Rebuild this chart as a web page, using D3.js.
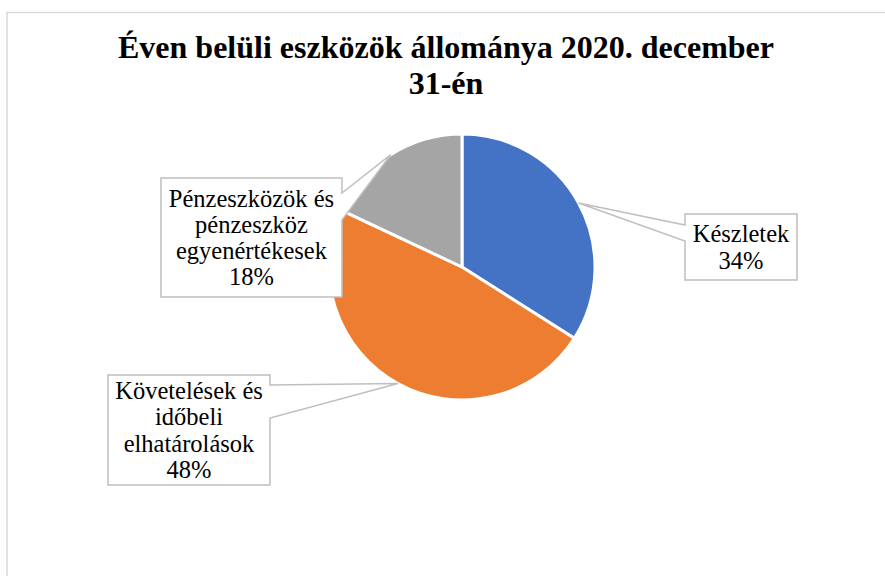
<!DOCTYPE html>
<html>
<head>
<meta charset="utf-8">
<script src="https://cdn.jsdelivr.net/npm/d3@7"></script>
<style>
  html, body { margin: 0; padding: 0; background: #fff; }
  svg { display: block; }
</style>
</head>
<body>
<svg id="chart"></svg>
<script>
const svgWidth = 885;
const svgHeight = 576;

// data
const titleLines = ['Éven belüli eszközök állománya 2020. december', '31-én'];
const categories = ['Készletek', 'Követelések és időbeli elhatárolások', 'Pénzeszközök és pénzeszköz egyenértékesek'];
const labelLines = [['Készletek'], ['Követelések és', 'időbeli', 'elhatárolások'], ['Pénzeszközök és', 'pénzeszköz', 'egyenértékesek']];
const shares = [34, 48, 18];
const colors = ['#4472C4', '#ED7D31', '#A5A5A5'];

// callout boxes (layout only): box, side the pointer leaves from, pointer base
const boxes = [
  { x: 685, y: 214, w: 112, h: 66, side: 'left', base: [11, 27] },
  { x: 108, y: 375, w: 162, h: 110, side: 'right', base: [10, 43] },
  { x: 161, y: 178, w: 181, h: 119, side: 'right', base: [15, 42] },
];

const svg = d3.select('#chart')
  .attr('width', svgWidth)
  .attr('height', svgHeight);

// chart area border
svg.append('rect')
  .attr('x', 7)
  .attr('y', 12.5)
  .attr('width', 900)
  .attr('height', 600)
  .attr('fill', 'none')
  .attr('stroke', '#d9d9d9')
  .attr('stroke-width', 1.5);

// title
svg.append('text')
  .attr('font-family', '"Liberation Serif", "Times New Roman", serif')
  .attr('font-weight', 'bold')
  .attr('font-size', 32)
  .attr('text-anchor', 'middle')
  .selectAll('tspan')
  .data(titleLines)
  .enter()
  .append('tspan')
  .attr('x', 446)
  .attr('y', (d, i) => 58 + i * 36)
  .text(d => d);

const cx = 462;
const cy = 267;
const radius = 133;

const pie = d3.pie().sort(null).value(d => d);
const arcs = pie(shares);
const arc = d3.arc().innerRadius(0).outerRadius(radius);

const g = svg.append('g').attr('transform', `translate(${cx},${cy})`);

g.selectAll('path')
  .data(arcs)
  .enter()
  .append('path')
  .attr('d', arc)
  .attr('fill', (d, i) => colors[i])
  .attr('stroke', '#fff')
  .attr('stroke-width', 3)
  .attr('stroke-linejoin', 'round');

// callouts point at the middle of each slice's rim
const tip = d => {
  const a = (d.startAngle + d.endAngle) / 2;
  return [cx + radius * Math.sin(a), cy - radius * Math.cos(a)];
};

function calloutPath(b, t) {
  const { x, y, w, h } = b;
  const [b0, b1] = b.base;
  let pts;
  if (b.side === 'left') {
    pts = [[x, y], [x + w, y], [x + w, y + h], [x, y + h], [x, y + b1], t, [x, y + b0]];
  } else {
    pts = [[x, y], [x + w, y], [x + w, y + b0], t, [x + w, y + b1], [x + w, y + h], [x, y + h]];
  }
  return d3.line()(pts) + 'Z';
}

const labels = svg.append('g')
  .selectAll('g')
  .data(arcs)
  .enter()
  .append('g');

labels.append('path')
  .attr('d', (d, i) => calloutPath(boxes[i], tip(d)))
  .attr('fill', '#fff')
  .attr('stroke', '#bfbfbf')
  .attr('stroke-width', 1.5);

const lineHeight = 26.3;
labels.append('text')
  .attr('font-family', '"Liberation Serif", "Times New Roman", serif')
  .attr('font-size', 24.5)
  .attr('fill', '#000')
  .attr('text-anchor', 'middle')
  .each(function (d, i) {
    const b = boxes[i];
    const lines = [...labelLines[i], `${shares[i]}%`];
    const y0 = b.y + b.h / 2 - ((lines.length - 1) / 2) * lineHeight + 8.5;
    d3.select(this)
      .selectAll('tspan')
      .data(lines)
      .enter()
      .append('tspan')
      .attr('x', b.x + b.w / 2)
      .attr('y', (l, j) => y0 + j * lineHeight)
      .text(l => l);
  });
</script>
</body>
</html>
